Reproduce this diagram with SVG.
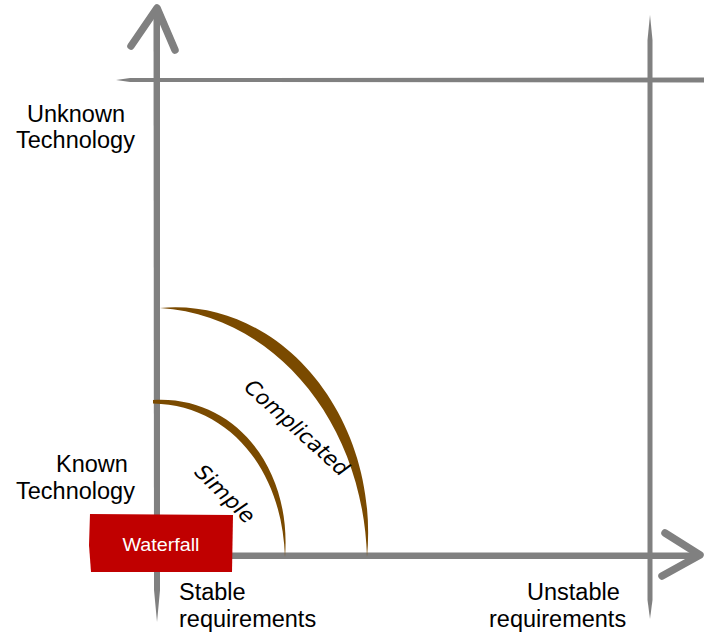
<svg xmlns="http://www.w3.org/2000/svg" width="704" height="632" viewBox="0 0 704 632">
<style>
.ax{fill:#808080;stroke:none}
.axs{fill:none;stroke:#808080;stroke-linecap:round;stroke-linejoin:round}
.arc{fill:#7A4A00;stroke:none}
.lbl{font-family:"Liberation Sans",Arial,sans-serif;font-size:23.5px;fill:#000}
.hand{font-family:"DejaVu Sans","Liberation Sans",sans-serif;font-style:italic;font-size:21px;fill:#000}
</style>
<rect width="704" height="632" fill="#ffffff"/>
<g id="connectors">
  <path class="ax" d="M116,80 L130,78 L704,77.5 L704,82.5 L130,82 Z"/>
  <path class="ax" d="M650,15 L652.5,40 L652.5,600 L650,619 L647.5,600 L647.5,40 Z"/>
  <path class="ax" d="M153.5,14 L160,14 L160,590 L157,622 L154,590 Z"/>
  <path class="axs" stroke-width="7.5" d="M131,46 L157,8 L175,50"/>
  <path class="ax" d="M200,552.5 L698,552.5 L698,559 L200,559 Z"/>
  <path class="axs" stroke-width="7.5" d="M665,533 L700,555 L662,576"/>
</g>
<g id="arc-complicated">
  <path class="arc" d="M160,308 C280,297 380,417 367,557 C363,419 272,315 160,308 Z"/>
  <text class="hand" transform="translate(292,433) rotate(42)" text-anchor="middle" textLength="132" lengthAdjust="spacingAndGlyphs">Complicated</text>
</g>
<g id="arc-simple">
  <path class="arc" d="M153,400 C233,395 292,466 285,557 C282,468 228,405 153,403.5 Z"/>
  <text class="hand" transform="translate(220,499) rotate(44)" text-anchor="middle" textLength="74" lengthAdjust="spacingAndGlyphs">Simple</text>
</g>
<g id="waterfall">
  <path d="M90,514 L233,515 L232,572 L91,572 L89,545 Z" fill="#C00000"/>
  <text x="161" y="551" text-anchor="middle" font-family="'Liberation Sans',Arial,sans-serif" font-size="18.5" fill="#ffffff" textLength="77" lengthAdjust="spacingAndGlyphs">Waterfall</text>
</g>
<g id="label-unknown">
  <text class="lbl" x="27" y="122">Unknown</text>
  <text class="lbl" x="16" y="148">Technology</text>
</g>
<g id="label-known">
  <text class="lbl" x="56" y="472">Known</text>
  <text class="lbl" x="16" y="499">Technology</text>
</g>
<g id="label-stable">
  <text class="lbl" x="179" y="600">Stable</text>
  <text class="lbl" x="179" y="627">requirements</text>
</g>
<g id="label-unstable">
  <text class="lbl" x="527" y="600">Unstable</text>
  <text class="lbl" x="489" y="627">requirements</text>
</g>
</svg>
